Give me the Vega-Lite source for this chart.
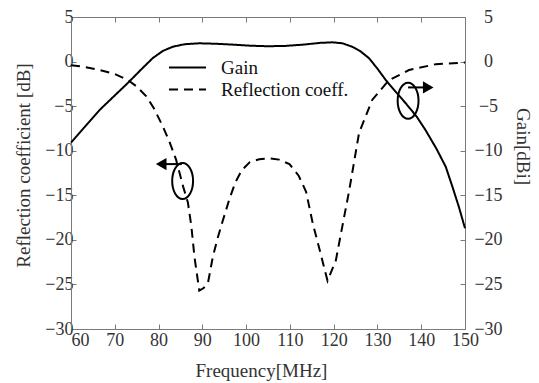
{
  "$schema": "https://vega.github.io/schema/vega-lite/v6.json",
  "autosize": {"type": "none"},
  "padding": {"left": 71, "top": 17, "right": 74, "bottom": 54},
  "width": 394,
  "height": 312,
  "background": "white",
  "config": {
    "font": "Liberation Serif",
    "view": {"stroke": "#7a7a7a", "strokeWidth": 1},
    "axis": {
      "labelFont": "Liberation Serif",
      "titleFont": "Liberation Serif",
      "labelFontSize": 18,
      "titleFontSize": 19,
      "labelColor": "#333333",
      "titleColor": "#333333",
      "titleFontWeight": "normal",
      "domainColor": "#7a7a7a",
      "tickColor": "#7a7a7a",
      "grid": false
    },
    "legend": {
      "labelFont": "Liberation Serif",
      "labelFontSize": 19,
      "labelColor": "#111111"
    }
  },
  "datasets": {
    "curves": [
      {"series": "Gain", "freq": 60, "value": -9.1},
      {"series": "Gain", "freq": 63, "value": -7.4},
      {"series": "Gain", "freq": 66.6, "value": -5.4},
      {"series": "Gain", "freq": 70, "value": -3.8},
      {"series": "Gain", "freq": 73.2, "value": -2.3},
      {"series": "Gain", "freq": 76, "value": -0.9},
      {"series": "Gain", "freq": 78.7, "value": 0.4},
      {"series": "Gain", "freq": 81, "value": 1.2},
      {"series": "Gain", "freq": 83.3, "value": 1.67},
      {"series": "Gain", "freq": 86, "value": 1.95},
      {"series": "Gain", "freq": 89.4, "value": 2.05},
      {"series": "Gain", "freq": 93, "value": 2.0},
      {"series": "Gain", "freq": 97, "value": 1.9},
      {"series": "Gain", "freq": 101, "value": 1.78},
      {"series": "Gain", "freq": 105, "value": 1.72},
      {"series": "Gain", "freq": 109, "value": 1.76},
      {"series": "Gain", "freq": 113, "value": 1.9},
      {"series": "Gain", "freq": 117, "value": 2.1},
      {"series": "Gain", "freq": 119.7, "value": 2.16},
      {"series": "Gain", "freq": 122, "value": 2.05},
      {"series": "Gain", "freq": 124.2, "value": 1.67},
      {"series": "Gain", "freq": 126, "value": 1.2},
      {"series": "Gain", "freq": 128.1, "value": 0.37},
      {"series": "Gain", "freq": 130, "value": -0.8},
      {"series": "Gain", "freq": 131.9, "value": -2.07},
      {"series": "Gain", "freq": 134, "value": -3.3},
      {"series": "Gain", "freq": 136.5, "value": -4.7},
      {"series": "Gain", "freq": 139, "value": -6.2},
      {"series": "Gain", "freq": 141, "value": -7.7},
      {"series": "Gain", "freq": 143.5, "value": -9.8},
      {"series": "Gain", "freq": 145.6, "value": -11.8},
      {"series": "Gain", "freq": 147.1, "value": -14.0},
      {"series": "Gain", "freq": 148.6, "value": -16.3},
      {"series": "Gain", "freq": 150, "value": -18.7},
      {"series": "Reflection coeff.", "freq": 60, "value": -0.4},
      {"series": "Reflection coeff.", "freq": 63, "value": -0.6},
      {"series": "Reflection coeff.", "freq": 66.6, "value": -0.95},
      {"series": "Reflection coeff.", "freq": 70, "value": -1.4},
      {"series": "Reflection coeff.", "freq": 73, "value": -2.07},
      {"series": "Reflection coeff.", "freq": 75, "value": -2.8},
      {"series": "Reflection coeff.", "freq": 77.2, "value": -3.9},
      {"series": "Reflection coeff.", "freq": 79, "value": -5.3},
      {"series": "Reflection coeff.", "freq": 81, "value": -7.3},
      {"series": "Reflection coeff.", "freq": 82.5, "value": -9.0},
      {"series": "Reflection coeff.", "freq": 84, "value": -11.0},
      {"series": "Reflection coeff.", "freq": 85.6, "value": -14.0},
      {"series": "Reflection coeff.", "freq": 86.7, "value": -15.8},
      {"series": "Reflection coeff.", "freq": 87.5, "value": -18.5},
      {"series": "Reflection coeff.", "freq": 88.2, "value": -21.9},
      {"series": "Reflection coeff.", "freq": 89.3, "value": -25.7},
      {"series": "Reflection coeff.", "freq": 90.3, "value": -25.4},
      {"series": "Reflection coeff.", "freq": 91.3, "value": -24.8},
      {"series": "Reflection coeff.", "freq": 92.4, "value": -21.9},
      {"series": "Reflection coeff.", "freq": 93.5, "value": -19.8},
      {"series": "Reflection coeff.", "freq": 94.7, "value": -17.8},
      {"series": "Reflection coeff.", "freq": 96.2, "value": -15.4},
      {"series": "Reflection coeff.", "freq": 97.5, "value": -13.6},
      {"series": "Reflection coeff.", "freq": 99, "value": -12.2},
      {"series": "Reflection coeff.", "freq": 100.8, "value": -11.3},
      {"series": "Reflection coeff.", "freq": 103, "value": -10.95},
      {"series": "Reflection coeff.", "freq": 105.3, "value": -10.85},
      {"series": "Reflection coeff.", "freq": 107.5, "value": -11.0},
      {"series": "Reflection coeff.", "freq": 109.9, "value": -11.5},
      {"series": "Reflection coeff.", "freq": 112, "value": -12.8},
      {"series": "Reflection coeff.", "freq": 113.7, "value": -14.6},
      {"series": "Reflection coeff.", "freq": 115.2, "value": -18.1},
      {"series": "Reflection coeff.", "freq": 117, "value": -21.5},
      {"series": "Reflection coeff.", "freq": 118.6, "value": -24.6},
      {"series": "Reflection coeff.", "freq": 120.5, "value": -22.3},
      {"series": "Reflection coeff.", "freq": 122.4, "value": -17.4},
      {"series": "Reflection coeff.", "freq": 123.5, "value": -14.6},
      {"series": "Reflection coeff.", "freq": 125.8, "value": -8.0},
      {"series": "Reflection coeff.", "freq": 128.8, "value": -4.3},
      {"series": "Reflection coeff.", "freq": 132.6, "value": -2.1},
      {"series": "Reflection coeff.", "freq": 137.2, "value": -0.95},
      {"series": "Reflection coeff.", "freq": 143.3, "value": -0.3},
      {"series": "Reflection coeff.", "freq": 150, "value": -0.1}
    ],
    "ellipses": [
      {"freq": 85.5, "value": -13.4},
      {"freq": 137.0, "value": -4.4}
    ],
    "arrows": [
      {"side": "left", "start": 85.3, "end": 80.6, "value": -11.5},
      {"side": "right", "start": 137.0, "end": 141.6, "value": -2.9}
    ]
  },
  "layer": [
    {
      "data": {"name": "curves"},
      "transform": [{"filter": "datum.series === 'Reflection coeff.'"}],
      "mark": {"type": "line", "color": "black", "strokeWidth": 2},
      "encoding": {
        "x": {
          "field": "freq", "type": "quantitative",
          "scale": {"domain": [60, 150], "nice": false, "zero": false},
          "axis": {
            "orient": "bottom",
            "title": "Frequency[MHz]",
            "values": [60, 70, 80, 90, 100, 110, 120, 130, 140, 150],
            "tickSize": -5,
            "labelPadding": 7,
            "labelAlign": {"condition": {"test": "datum.value === 60", "value": "left"}, "value": "center"},
            "titleX": 190,
            "titleY": 41,
            "titleBaseline": "middle",
            "titleAnchor": "start",
            "titleAlign": "center"
          }
        },
        "y": {
          "field": "value", "type": "quantitative",
          "scale": {"domain": [-30, 5], "nice": false, "zero": false},
          "axis": {
            "orient": "left",
            "title": "Reflection coefficient [dB]",
            "values": [-30, -25, -20, -15, -10, -5, 0, 5],
            "tickSize": -5,
            "labelPadding": 3,
            "titleX": -48,
            "titleY": 148,
            "titleAngle": -90,
            "titleBaseline": "middle",
            "titleAlign": "center"
          }
        },
        "strokeDash": {
          "field": "series", "type": "nominal",
          "scale": {"domain": ["Gain", "Reflection coeff."], "range": [[1, 0], [9, 6]]},
          "legend": {
            "title": null,
            "orient": "none",
            "legendX": 106,
            "legendY": 40,
            "symbolType": "M -2 0 L 2 0",
            "symbolSize": 342,
            "symbolStrokeWidth": 2,
            "symbolStrokeColor": "black",
            "symbolFillColor": "transparent",
            "labelOffset": 23,
            "rowPadding": 1
          }
        }
      }
    },
    {
      "data": {"name": "curves"},
      "transform": [{"filter": "datum.series === 'Gain'"}],
      "mark": {"type": "line", "color": "black", "strokeWidth": 2},
      "encoding": {
        "x": {
          "field": "freq", "type": "quantitative",
          "axis": {
            "orient": "top",
            "title": null,
            "labels": false,
            "values": [60, 70, 80, 90, 100, 110, 120, 130, 140, 150],
            "tickSize": -5
          }
        },
        "y": {
          "field": "value", "type": "quantitative",
          "axis": {
            "orient": "right",
            "title": "Gain[dBi]",
            "values": [-30, -25, -20, -15, -10, -5, 0, 5],
            "tickSize": -5,
            "labelAlign": "center",
            "labelPadding": 28,
            "titleX": 57,
            "titleY": 129,
            "titleAngle": 90,
            "titleBaseline": "middle",
            "titleAlign": "center"
          }
        },
        "strokeDash": {"field": "series", "type": "nominal"}
      }
    },
    {
      "data": {"name": "ellipses"},
      "mark": {
        "type": "point",
        "shape": "M -0.58 0 A 0.58 1 0 1 0 0.58 0 A 0.58 1 0 1 0 -0.58 0 Z",
        "size": 1296,
        "filled": false,
        "stroke": "black",
        "strokeWidth": 2,
        "opacity": 1
      },
      "encoding": {
        "x": {"field": "freq", "type": "quantitative", "axis": null},
        "y": {"field": "value", "type": "quantitative", "axis": null}
      }
    },
    {
      "data": {"name": "arrows"},
      "mark": {"type": "rule", "color": "black", "strokeWidth": 2},
      "encoding": {
        "x": {"field": "start", "type": "quantitative", "axis": null},
        "x2": {"field": "end"},
        "y": {"field": "value", "type": "quantitative", "axis": null}
      }
    },
    {
      "data": {"name": "arrows"},
      "transform": [{"filter": "datum.side === 'left'"}],
      "mark": {"type": "point", "shape": "triangle-left", "size": 150, "filled": true, "color": "black", "opacity": 1},
      "encoding": {
        "x": {"field": "end", "type": "quantitative", "axis": null},
        "y": {"field": "value", "type": "quantitative", "axis": null}
      }
    },
    {
      "data": {"name": "arrows"},
      "transform": [{"filter": "datum.side === 'right'"}],
      "mark": {"type": "point", "shape": "triangle-right", "size": 150, "filled": true, "color": "black", "opacity": 1},
      "encoding": {
        "x": {"field": "end", "type": "quantitative", "axis": null},
        "y": {"field": "value", "type": "quantitative", "axis": null}
      }
    }
  ],
  "resolve": {
    "scale": {"x": "shared", "y": "shared"},
    "axis": {"x": "independent", "y": "independent"}
  }
}
